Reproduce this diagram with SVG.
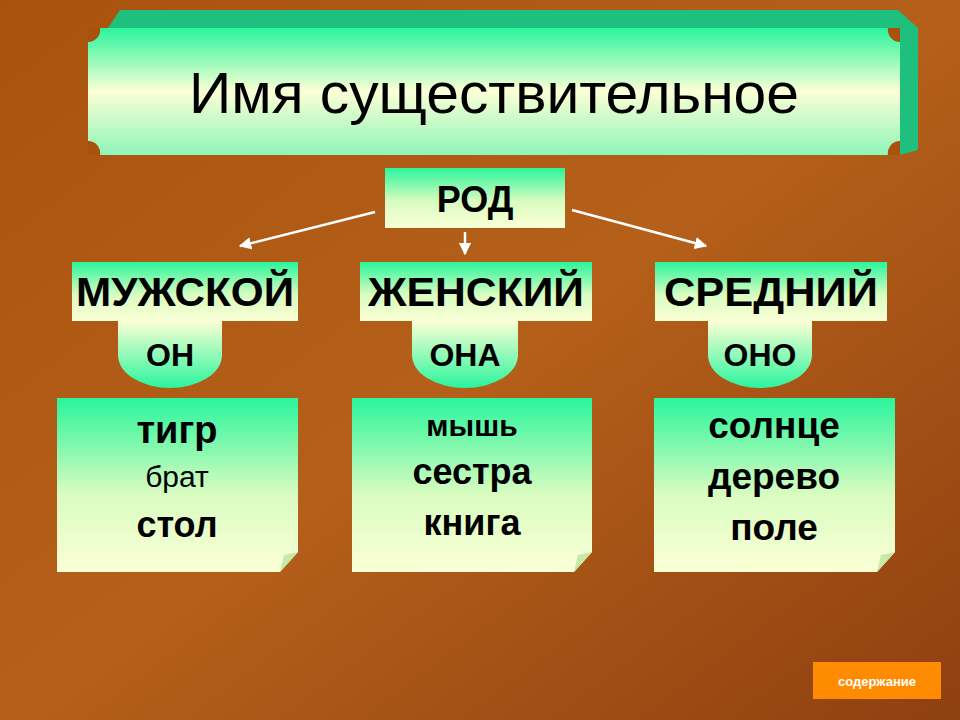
<svg xmlns="http://www.w3.org/2000/svg" width="960" height="720" viewBox="0 0 960 720">
<defs>
<linearGradient id="bg" x1="0" y1="0" x2="1" y2="1"><stop offset="0" stop-color="#a8520e"/><stop offset="0.5" stop-color="#b5601a"/><stop offset="1" stop-color="#8f4010"/></linearGradient>
<linearGradient id="box" x1="0" y1="0" x2="0" y2="1"><stop offset="0" stop-color="#2af59c"/><stop offset="0.55" stop-color="#d8fcc0"/><stop offset="1" stop-color="#fbffd6"/></linearGradient>
<linearGradient id="tab" x1="0" y1="0" x2="0" y2="1"><stop offset="0" stop-color="#fbffd6"/><stop offset="1" stop-color="#2af59c"/></linearGradient>
<linearGradient id="ban" x1="0" y1="0" x2="0" y2="1"><stop offset="0" stop-color="#2af59c"/><stop offset="0.5" stop-color="#fbffd6"/><stop offset="1" stop-color="#8ff5b8"/></linearGradient>
<marker id="ah" viewBox="0 0 10 10" refX="9" refY="5" markerWidth="5" markerHeight="5" orient="auto"><path d="M0,0L10,5L0,10z" fill="#fff"/></marker>
<style>
.t{font-family:"Liberation Sans",Arial,sans-serif;fill:#000;text-anchor:middle}
.b{font-weight:bold}
.c{stroke:#fff;stroke-width:2.5;fill:none;marker-end:url(#ah)}
</style>
</defs>
<rect width="960" height="720" fill="url(#bg)"/>
<g id="title">
<path d="M108,28L120,10H898L918,28V150L900,155Z" fill="#1fbf7d"/>
<path d="M88,28H900V155H88Z" fill="url(#ban)"/>
<path d="M88,28h12a12,12 0 0 1 -12,14z M900,28h-12a12,12 0 0 0 12,14z M88,155h12a12,12 0 0 0 -12,-14z M900,155h-12a12,12 0 0 1 12,-14z" fill="#a8520e"/>
<text class="t" x="494" y="113" font-size="58" textLength="610" lengthAdjust="spacingAndGlyphs">Имя существительное</text>
</g>
<g id="rod"><rect x="385" y="168" width="180" height="60" fill="url(#box)"/><text class="t b" x="475" y="212" font-size="36">РОД</text></g>
<g id="connectors">
<line class="c" x1="375" y1="212" x2="240" y2="246"/>
<line class="c" x1="465" y1="232" x2="465" y2="254"/>
<line class="c" x1="572" y1="210" x2="706" y2="246"/>
</g>
<g id="m">
<path d="M118,321H222V355a52,33 0 0 1 -104,0Z" fill="url(#tab)"/>
<rect x="72" y="262" width="226" height="59" fill="url(#box)"/>
<text class="t" x="185" y="306" font-size="41" font-weight="600" textLength="218" lengthAdjust="spacingAndGlyphs">МУЖСКОЙ</text>
<text class="t" x="170" y="366" font-size="32" font-weight="600">ОН</text>
</g>
<g id="f">
<path d="M412,321H518V355a53,33 0 0 1 -106,0Z" fill="url(#tab)"/>
<rect x="360" y="262" width="232" height="59" fill="url(#box)"/>
<text class="t" x="476" y="306" font-size="41" font-weight="600" textLength="216" lengthAdjust="spacingAndGlyphs">ЖЕНСКИЙ</text>
<text class="t" x="465" y="366" font-size="32" font-weight="600">ОНА</text>
</g>
<g id="n">
<path d="M708,321H812V355a52,33 0 0 1 -104,0Z" fill="url(#tab)"/>
<rect x="655" y="262" width="232" height="59" fill="url(#box)"/>
<text class="t" x="771" y="306" font-size="41" font-weight="600" textLength="214" lengthAdjust="spacingAndGlyphs">СРЕДНИЙ</text>
<text class="t" x="760" y="366" font-size="32" font-weight="600">ОНО</text>
</g>
<g id="w1">
<path d="M57,398H298V552L280,572H57Z" fill="url(#box)"/><path d="M280,572L284,555L298,552Z" fill="#c8e8a8"/>
<text class="t b" x="177" y="443" font-size="38">тигр</text>
<text class="t" x="177" y="487" font-size="30">брат</text>
<text class="t b" x="177" y="537" font-size="36">стол</text>
</g>
<g id="w2">
<path d="M352,398H592V552L574,572H352Z" fill="url(#box)"/><path d="M574,572L578,555L592,552Z" fill="#c8e8a8"/>
<text class="t" x="472" y="436" font-size="30" font-weight="600">мышь</text>
<text class="t b" x="472" y="484" font-size="36">сестра</text>
<text class="t b" x="472" y="535" font-size="36">книга</text>
</g>
<g id="w3">
<path d="M654,398H895V552L877,572H654Z" fill="url(#box)"/><path d="M877,572L881,555L895,552Z" fill="#c8e8a8"/>
<text class="t b" x="774" y="438" font-size="37">солнце</text>
<text class="t b" x="774" y="489" font-size="37">дерево</text>
<text class="t b" x="774" y="540" font-size="37">поле</text>
</g>
<g id="btn"><rect x="813" y="662" width="128" height="37" fill="#ff8c00"/><text class="t b" x="877" y="686" font-size="13" style="fill:#fff">содержание</text></g>
</svg>
